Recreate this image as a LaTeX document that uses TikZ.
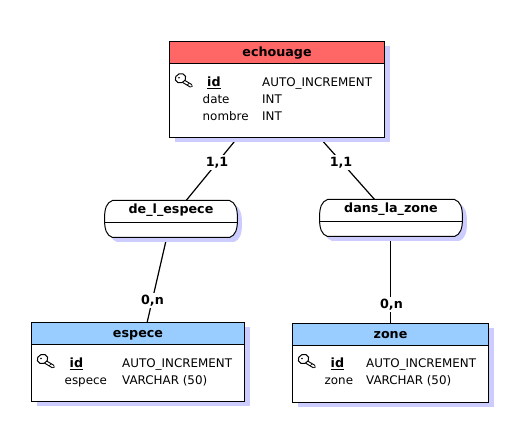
\documentclass[tikz,border=0pt]{standalone}
\usepackage{fontspec}
\setmainfont{DejaVu Sans}
\usetikzlibrary{calc}
\definecolor{shadowc}{HTML}{CCCCFF}
\definecolor{redhead}{HTML}{FF6666}
\definecolor{bluehead}{HTML}{99CCFF}
\pgfdeclarelayer{conn}
\pgfsetlayers{conn,main}
\newcommand{\regtxt}{\fontsize{11.9}{14}\selectfont}
\newcommand{\boldtxt}{\fontsize{12.7}{14}\selectfont\bfseries}
\newcommand{\ulid}{\underline{id}}
\tikzset{
  x=1pt,y=-1pt,
  tablebox/.style={draw=black,line width=1pt,fill=white,inner sep=0pt,rectangle},
  tableshadow/.style={fill=shadowc,draw=none},
  headfill/.style={draw=black,line width=1pt},
  titletext/.style={font=\boldtxt,inner sep=0pt,anchor=base},
  fieldtext/.style={font=\regtxt,inner sep=0pt,anchor=base west},
  idtext/.style={font=\boldtxt,inner sep=0pt,anchor=base west},
  cardtext/.style={font=\boldtxt,fill=white,inner sep=1.5pt,anchor=center},
  connector/.style={draw=black,line width=1.2pt},
  relline/.style={draw=black,line width=1pt,fill=white},
  relanchor/.style={rectangle,inner sep=0pt,draw=none},
}
% \tablebox{name}{cx}{cy}{w}{h}{header h}{color}{title}
\newcommand{\tablebox}[8]{
  \fill[tableshadow] (#2-#4/2+5,#3-#5/2+5) rectangle (#2+#4/2+5,#3+#5/2+5);
  \node[tablebox,outer sep=0pt,minimum width=#4 pt,minimum height=#5 pt] (#1) at (#2,#3) {};
  \draw[headfill,fill=#7] (#1.north west) rectangle ($(#1.north east)+(0,#6)$);
  \node[titletext] (#1-title) at ($(#1.north)+(0,15.5)$) {#8};
}
\newcommand{\relshape}[5]{
  (#1-#3/2+8,#2-#4/2) -- (#1+#3/2-8,#2-#4/2)
  .. controls (#1+#3/2-2,#2-#4/2+2) and (#1+#3/2,#2-#4/2+8) .. (#1+#3/2,#2)
  .. controls (#1+#3/2,#2+#4/2-8) and (#1+#3/2-2,#2+#4/2-2) .. (#1+#3/2-8,#2+#4/2)
  -- (#1-#3/2+8,#2+#4/2)
  .. controls (#1-#3/2+2,#2+#4/2-2) and (#1-#3/2,#2+#4/2-8) .. (#1-#3/2,#2)
  .. controls (#1-#3/2,#2-#4/2+8) and (#1-#3/2+2,#2-#4/2+2) .. (#1-#3/2+8,#2-#4/2) -- cycle
}
% \relbox{name}{cx}{cy}{w}{h}{divider offset}{title}
\newcommand{\relbox}[7]{
  \fill[tableshadow] \relshape{#2+4.5}{#3+4.5}{#4}{#5}{};
  \draw[relline] \relshape{#2}{#3}{#4}{#5}{};
  \node[relanchor,outer sep=0pt,minimum width=#4 pt,minimum height=#5 pt] (#1) at (#2,#3) {};
  \draw[relline] ($(#1.north west)+(0,#6)$) -- ($(#1.north east)+(0,#6)$);
  \node[titletext] (#1-title) at ($(#1.north)+(0,13.5)$) {#7};
}
% key icon with head at (#1,#2)
\newcommand{\keyicon}[2]{
  \draw[black,line width=3.8pt,line cap=round] (#1+3,#2+3) -- (#1+10.5,#2+7.5);
  \draw[white,line width=1.7pt,line cap=round] (#1+3,#2+3) -- (#1+10.5,#2+7.5);
  \draw[black,fill=white,line width=1pt,rotate around={20:(#1,#2)}] (#1,#2) ellipse (5.4 and 4.6);
  \fill[black] (#1-1.5,#2-0.5) circle (0.9);
  \draw[black,line width=.7pt] (#1+6.5,#2+7) -- (#1+8.5,#2+5);
}
\begin{document}
\begin{tikzpicture}
\useasboundingbox (0,0) rectangle (531,430);
\begin{pgfonlayer}{conn}
\fill[white] (0,0) rectangle (531,430);
\end{pgfonlayer}

\tablebox{echouage}{277}{89.5}{215}{96}{22}{redhead}{echouage}
\tablebox{espece}{138}{362}{213}{79}{22}{bluehead}{espece}
\tablebox{zone}{390.5}{363}{196}{79}{22}{bluehead}{zone}
\relbox{delespece}{171}{219}{133}{37}{22}{de\_l\_espece}
\relbox{danszone}{391}{218}{143}{37}{22}{dans\_la\_zone}

% fields
\keyicon{180.5}{78.3}
\node[idtext] (e-id) at (207,86.3) {\ulid};
\node[fieldtext] (e-idt) at (262,86.3) {AUTO\_INCREMENT};
\node[fieldtext] (e-date) at (202.5,103.3) {date};
\node[fieldtext] (e-datet) at (262,103.3) {INT};
\node[fieldtext] (e-nom) at (202.5,120.3) {nombre};
\node[fieldtext] (e-nomt) at (262,120.3) {INT};

\keyicon{42.5}{359}
\node[idtext] (s-id) at (69.5,367.3) {\ulid};
\node[fieldtext] (s-idt) at (122,367.3) {AUTO\_INCREMENT};
\node[fieldtext] (s-esp) at (64.5,384.3) {espece};
\node[fieldtext] (s-espt) at (122,384.3) {VARCHAR (50)};

\keyicon{303.5}{359}
\node[idtext] (z-id) at (330.5,367.3) {\ulid};
\node[fieldtext] (z-idt) at (366,367.3) {AUTO\_INCREMENT};
\node[fieldtext] (z-zone) at (324.5,384.3) {zone};
\node[fieldtext] (z-zonet) at (366,384.3) {VARCHAR (50)};

% cardinalities
\node[cardtext] (c1) at (217,162.5) {1,1};
\node[cardtext] (c2) at (341,162.5) {1,1};
\node[cardtext] (c3) at (152.5,300.5) {0,n};
\node[cardtext] (c4) at (391.5,304.5) {0,n};

\begin{pgfonlayer}{conn}
\draw[connector] (echouage.center) -- (delespece.center);
\draw[connector] (echouage.center) -- (danszone.center);
\draw[connector] (delespece.center) -- (espece.center);
\draw[connector] (zone.center |- danszone.center) -- (zone.center);
\end{pgfonlayer}
\end{tikzpicture}
\end{document}
